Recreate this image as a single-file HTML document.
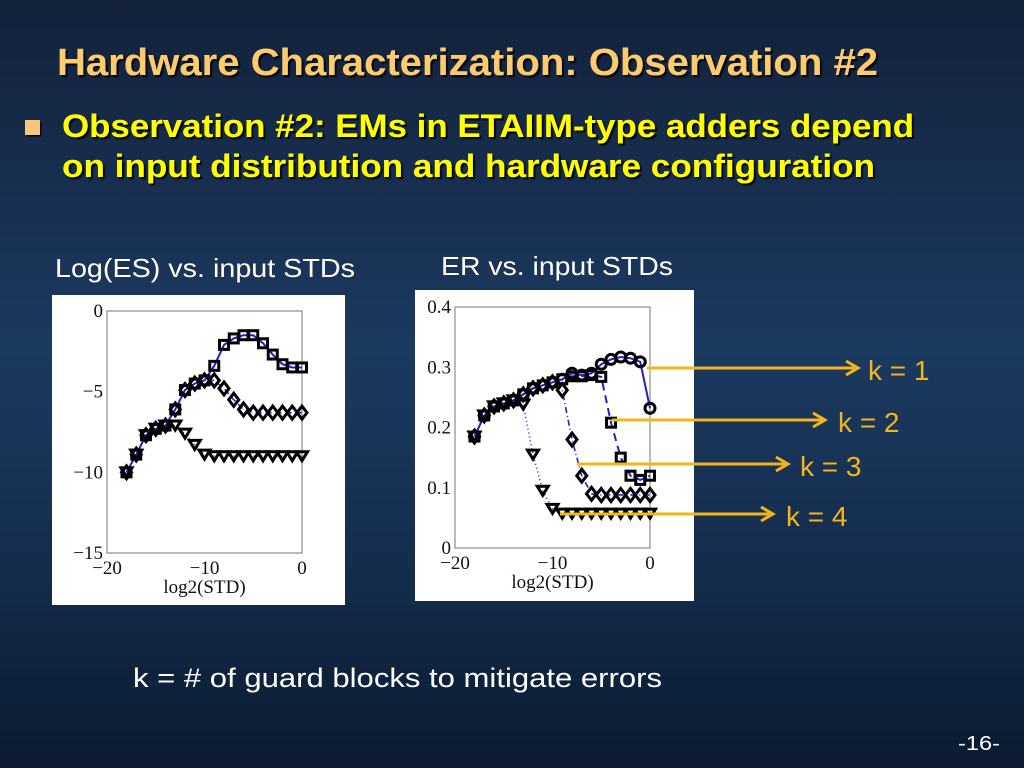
<!DOCTYPE html>
<html><head><meta charset="utf-8"><style>
html,body{margin:0;padding:0;width:1024px;height:768px;overflow:hidden}
body{background:linear-gradient(180deg,#13213a 0%,#182f50 25%,#1b3a60 45%,#142c4c 75%,#0b1a30 100%)}
svg{position:absolute;left:0;top:0}
</style></head><body>
<svg id="s" width="1024" height="768" xmlns="http://www.w3.org/2000/svg" font-family="'Liberation Sans',sans-serif">
<defs>
<filter id="sh"><feDropShadow dx="2" dy="2" stdDeviation="0.6" flood-color="#000" flood-opacity="0.9"/></filter>
</defs>
<text x="57" y="75" font-size="38" font-weight="bold" fill="#fccb6e" textLength="821" lengthAdjust="spacingAndGlyphs" filter="url(#sh)">Hardware Characterization: Observation #2</text>
<rect x="25" y="120" width="15" height="15" fill="#f8c77a" filter="url(#sh)"/>
<text x="62" y="137" font-size="32" font-weight="bold" fill="#ffff00" textLength="852" lengthAdjust="spacingAndGlyphs" filter="url(#sh)">Observation #2: EMs in ETAIIM-type adders depend</text>
<text x="62" y="177" font-size="32" font-weight="bold" fill="#ffff00" textLength="813" lengthAdjust="spacingAndGlyphs" filter="url(#sh)">on input distribution and hardware configuration</text>
<text x="55" y="277" font-size="26" fill="#fff" textLength="300" lengthAdjust="spacingAndGlyphs">Log(ES) vs. input STDs</text>
<text x="441" y="275" font-size="26" fill="#fff" textLength="232" lengthAdjust="spacingAndGlyphs">ER vs. input STDs</text>
<text x="133" y="687" font-size="27" fill="#fff" textLength="529" lengthAdjust="spacingAndGlyphs">k = # of guard blocks to mitigate errors</text>
<text x="958" y="750" font-size="20" fill="#fff" textLength="42" lengthAdjust="spacingAndGlyphs">-16-</text>
<rect x="52" y="295" width="293" height="310" fill="#fff"/>
<rect x="415" y="290" width="279" height="311" fill="#fff"/>
<g id="plots"></g>
</svg>
<script>
var NS="http://www.w3.org/2000/svg",g=document.getElementById("plots");
function el(t,a,p){var e=document.createElementNS(NS,t);for(var k in a)e.setAttribute(k,a[k]);(p||g).appendChild(e);return e;}
function txt(x,y,s,anchor,size){var e=el("text",{x:x,y:y,"font-family":"'Liberation Serif',serif","font-size":size||19,fill:"#111","text-anchor":anchor||"middle"});e.textContent=s;}
function marker(type,x,y){var st={fill:"none",stroke:"#000","stroke-width":3};
 if(type=="s"){st.x=x-4.5;st.y=y-4.5;st.width=9;st.height=9;el("rect",st);}
 else if(type=="o"){st.cx=x;st.cy=y;st.r=5;el("circle",st);}
 else if(type=="d"){st.points=(x)+","+(y-6.5)+" "+(x+5)+","+y+" "+x+","+(y+6.5)+" "+(x-5)+","+y;el("polygon",st);}
 else {st.points=(x-5.5)+","+(y-4.5)+" "+(x+5.5)+","+(y-4.5)+" "+x+","+(y+4.5)+"";el("polygon",st);}}
function plot(X0,X1,Y0,Y1,ymin,ymax,series,yticks,ylabfmt){
 el("rect",{x:X0,y:Y0,width:X1-X0,height:Y1-Y0,fill:"none",stroke:"#777","stroke-width":1});
 var fx=function(v){return X0+(v+20)/20*(X1-X0)},fy=function(v){return Y1-(v-ymin)/(ymax-ymin)*(Y1-Y0)};
 [-20,-10,0].forEach(function(t){txt(fx(t),Y1+21,t==0?"0":"\u2212"+(-t));});
 txt((X0+X1)/2,Y1+40,"log2(STD)");
 yticks.forEach(function(t){txt(X0-4,fy(t)+6,ylabfmt(t),"end");});
 series.forEach(function(s){var pts=s.v.map(function(v,i){return fx(i-18)+","+fy(v)}).join(" ");
  el("polyline",{points:pts,fill:"none",stroke:"#2020d0","stroke-width":s.w||1.6,"stroke-dasharray":s.dash||"none"});});
 series.slice().reverse().forEach(function(s){s.v.forEach(function(v,i){marker(s.m,fx(i-18),fy(v));});});
}
var base=[-10,-8.9,-7.7,-7.3,-7.1,-6.1,-4.9,-4.5,-4.3];
plot(107,302,311,553,-15,0,[
 {m:"s",v:base.concat([-3.4,-2.1,-1.7,-1.5,-1.5,-2.0,-2.7,-3.3,-3.5,-3.5]),w:2},
 {m:"d",v:base.concat([-4.3,-4.8,-5.5,-6.1,-6.3,-6.3,-6.3,-6.3,-6.3,-6.3]),dash:"6,4"},
 {m:"t",v:[-10,-8.9,-7.7,-7.3,-7.1,-7.1,-7.6,-8.3,-8.9,-9,-9,-9,-9,-9,-9,-9,-9,-9,-9],dash:"1,3"}
],[0,-5,-10,-15],function(t){return t==0?"0":"\u2212"+(-t)});
var b2=[.185,.22,.235,.24,.245,.255,.265,.27,.275];
plot(455,650,307,548,0,0.4,[
 {m:"o",v:b2.concat([.28,.29,.287,.29,.305,.313,.317,.315,.309,.232]),w:2},
 {m:"s",v:b2.concat([.28,.285,.285,.287,.284,.208,.15,.12,.113,.12]),dash:"8,5",w:2},
 {m:"d",v:b2.concat([.262,.18,.12,.09,.088,.088,.088,.088,.088,.088]),dash:"6,3,1,3"},
 {m:"t",v:[.185,.22,.235,.24,.245,.238,.155,.095,.065,.057,.057,.057,.057,.057,.057,.057,.057,.057,.057],dash:"1,3"}
],[0,0.1,0.2,0.3,0.4],function(t){return t==0?"0":t.toFixed(1)});
var C="#f3b51c";
[[647,858,368,"k = 1",868],[612,825,420,"k = 2",838],[577,788,464,"k = 3",800],[560,773,514,"k = 4",786]].forEach(function(a){
 el("line",{x1:a[0],y1:a[2],x2:a[1],y2:a[2],stroke:C,"stroke-width":3});
 el("polyline",{points:(a[1]-12)+","+(a[2]-7)+" "+a[1]+","+a[2]+" "+(a[1]-12)+","+(a[2]+7),fill:"none",stroke:C,"stroke-width":3});
 var t=el("text",{x:a[4],y:a[2]+12,"font-size":28,fill:C,"font-family":"'Liberation Sans',sans-serif"});t.textContent=a[3];
});
</script>
</body></html>
